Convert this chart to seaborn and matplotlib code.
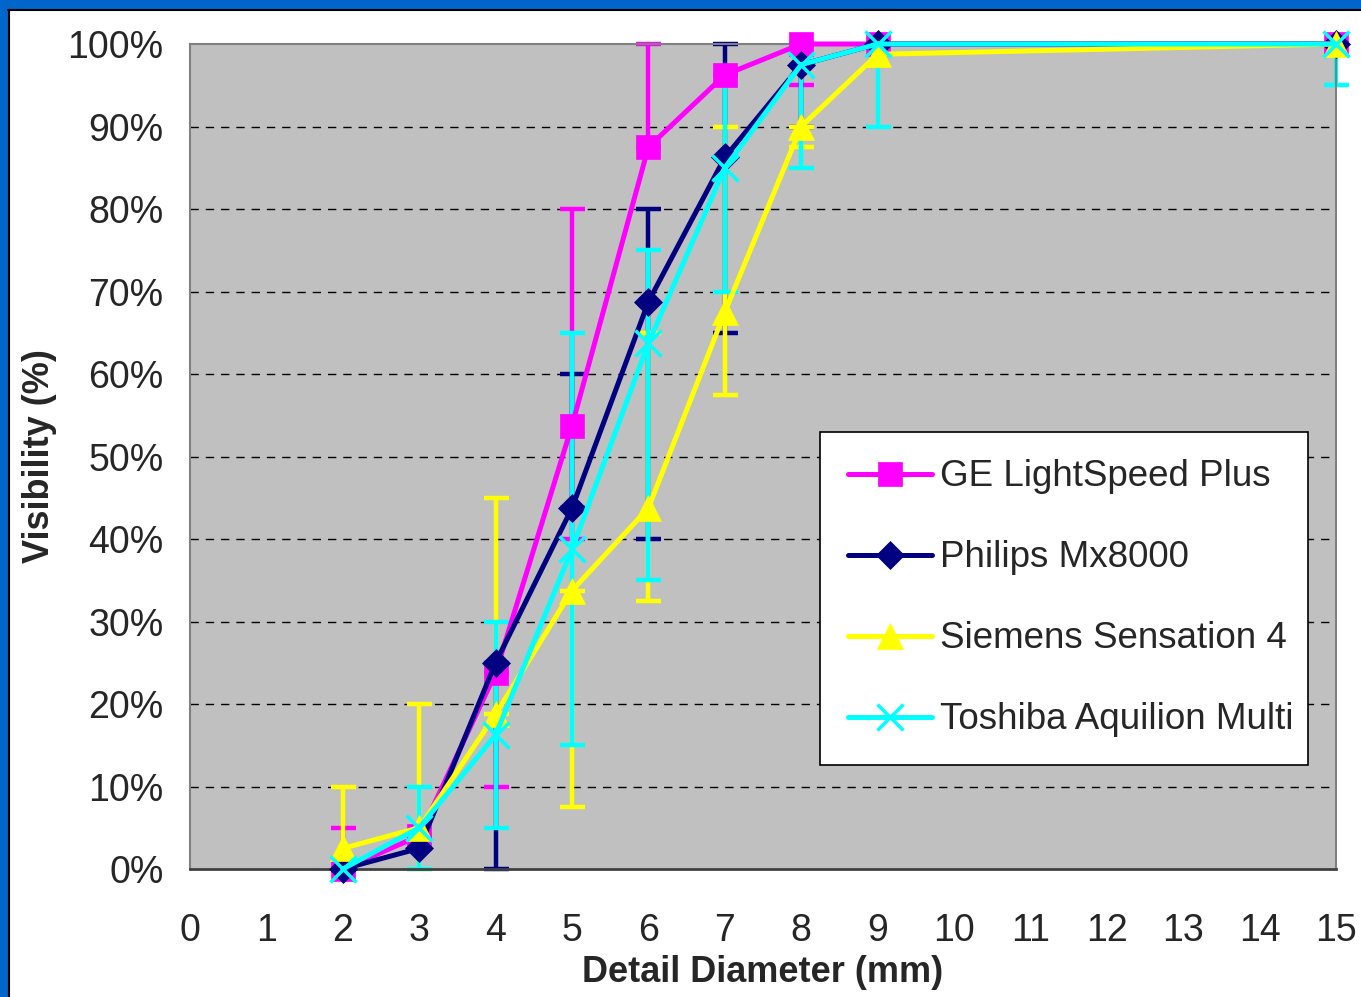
import numpy as np
import pandas as pd
import matplotlib
matplotlib.use("Agg")
import matplotlib.pyplot as plt
import seaborn as sns
from matplotlib.patches import Rectangle
from matplotlib.lines import Line2D

# ---- data ----
diameters = [2, 3, 4, 5, 6, 7, 8, 9, 15]
series_names = ["GE LightSpeed Plus", "Philips Mx8000", "Siemens Sensation 4", "Toshiba Aquilion Multi"]

ge_vals = [0, 4, 23.75, 53.75, 87.5, 96.25, 100, 100, 100]
ge_low = [0, 4, 10, 40, 87.5, 96.25, 95, 100, 100]
ge_high = [5, 4, 23.75, 80, 100, 96.25, 100, 100, 100]

ph_vals = [0, 2.5, 25, 43.75, 68.75, 86.25, 97.5, 100, 100]
ph_low = [0, 2.5, 0, 43.75, 40, 65, 90, 100, 100]
ph_high = [0, 2.5, 25, 60, 80, 100, 100, 100, 100]

si_vals = [2.5, 5, 18.75, 33.75, 43.75, 67.5, 90, 98.75, 100]
si_low = [0, 0, 18.75, 7.5, 32.5, 57.5, 87.5, 98.75, 100]
si_high = [10, 20, 45, 33.75, 65, 90, 90, 98.75, 100]

to_vals = [0, 5, 16.25, 38.75, 63.75, 85, 97.5, 100, 100]
to_low = [0, 0, 5, 15, 35, 70, 85, 90, 95]
to_high = [0, 10, 30, 65, 75, 95, 100, 100, 100]

y_ticks = list(range(0, 101, 10))
x_ticks = list(range(0, 16))

colors = ["#FF00FF", "#000080", "#FFFF00", "#00FFFF"]
markers = ["s", "D", "^", "x"]
msizes = [17, 14, 19, 19]

sns.set_style("white")
plt.rcParams['font.family'] = ['Liberation Sans', 'DejaVu Sans']

W, H = 1361, 997
fig = plt.figure(figsize=(W / 100, H / 100), dpi=100)
fig.patch.set_facecolor("white")
ax = fig.add_axes([190 / W, 1 - 869 / H, (1336 - 190) / W, (869 - 44) / H])
ax.set_facecolor("#C0C0C0")

all_vals = [ge_vals, ph_vals, si_vals, to_vals]
all_low = [ge_low, ph_low, si_low, to_low]
all_high = [ge_high, ph_high, si_high, to_high]

frames = []
for name, v, lo, hi in zip(series_names, all_vals, all_low, all_high):
    frames.append(pd.DataFrame({"diameter": diameters, "visibility": v,
                                "low": lo, "high": hi, "scanner": name}))
df = pd.concat(frames, ignore_index=True)

for i, name in enumerate(series_names):
    d = df[df.scanner == name]
    v = d.visibility.to_numpy()
    yerr = [v - d.low.to_numpy(), d.high.to_numpy() - v]
    ax.errorbar(d.diameter, v, yerr=yerr, fmt="none", ecolor=colors[i],
                elinewidth=3.2, capsize=9, capthick=3.2, zorder=2 + i * 0.1, clip_on=False)

for i, name in enumerate(series_names):
    d = df[df.scanner == name]
    kw = dict(markeredgecolor=colors[i], markerfacecolor=colors[i])
    kw["markeredgewidth"] = 2.5 if markers[i] == "x" else 0.5
    sns.lineplot(data=d, x="diameter", y="visibility", color=colors[i],
                 marker=markers[i], markersize=msizes[i], linewidth=3.6,
                 ax=ax, legend=False, zorder=3 + i * 0.1, **kw)

for ln in ax.lines:
    ln.set_clip_on(False)

ax.set_xlim(0, 15)
ax.set_ylim(0, 100)
ax.set_xticks(x_ticks)
ax.set_xticklabels([str(t) for t in x_ticks])
ax.set_yticks(y_ticks)
ax.set_yticklabels([f"{t}%" for t in y_ticks])
for t in y_ticks[1:-1]:
    ax.axhline(t, color="black", linestyle=(0, (6, 5)), linewidth=1, zorder=1)

ax.tick_params(axis="both", direction="out", length=10, width=1, color="black",
               labelsize=27)
ax.tick_params(axis="x", pad=22)
ax.tick_params(axis="y", pad=9)
for s in ["left", "top", "right"]:
    ax.spines[s].set_color("#808080")
    ax.spines[s].set_linewidth(1.5)
ax.spines["bottom"].set_color("#404040")
ax.spines["bottom"].set_linewidth(2)

ax.set_xlabel("Detail Diameter (mm)", fontsize=26, fontweight="bold", labelpad=4)
ax.set_ylabel("Visibility (%)", fontsize=26, fontweight="bold")
ax.yaxis.set_label_coords(-0.116, 0.5)

handles = []
for i, name in enumerate(series_names):
    kw = dict(markeredgecolor=colors[i], markerfacecolor=colors[i])
    kw["markeredgewidth"] = 2.5 if markers[i] == "x" else 0.5
    handles.append(Line2D([0], [0], color=colors[i], marker=markers[i],
                          markersize=msizes[i], linewidth=3.6, **kw))
leg = ax.legend(handles, series_names, loc="lower left",
                bbox_to_anchor=(0.5497, 0.126, 0.4258, 0.406), mode="expand",
                fontsize=26.5, frameon=True, fancybox=False, framealpha=1,
                edgecolor="black", handlelength=2.3, handletextpad=0.2,
                labelspacing=1.25, borderpad=0.75, borderaxespad=0)
leg.get_frame().set_linewidth(1.2)
leg.set_zorder(10)

# blue slide border
fig.add_artist(Rectangle((0, 0), 8 / W, 1, transform=fig.transFigure,
                         facecolor="#0066CC", edgecolor="none"))
fig.add_artist(Rectangle((0, 1 - 10 / H), 1, 10 / H, transform=fig.transFigure,
                         facecolor="#0066CC", edgecolor="none"))
fig.add_artist(Line2D([8.5 / W, 8.5 / W], [0, 1 - 10 / H], transform=fig.transFigure,
                      color="black", linewidth=1.5))
fig.add_artist(Line2D([8 / W, 1], [1 - 10.5 / H, 1 - 10.5 / H], transform=fig.transFigure,
                      color="black", linewidth=1.5))

fig.savefig("out.png", dpi=100)
